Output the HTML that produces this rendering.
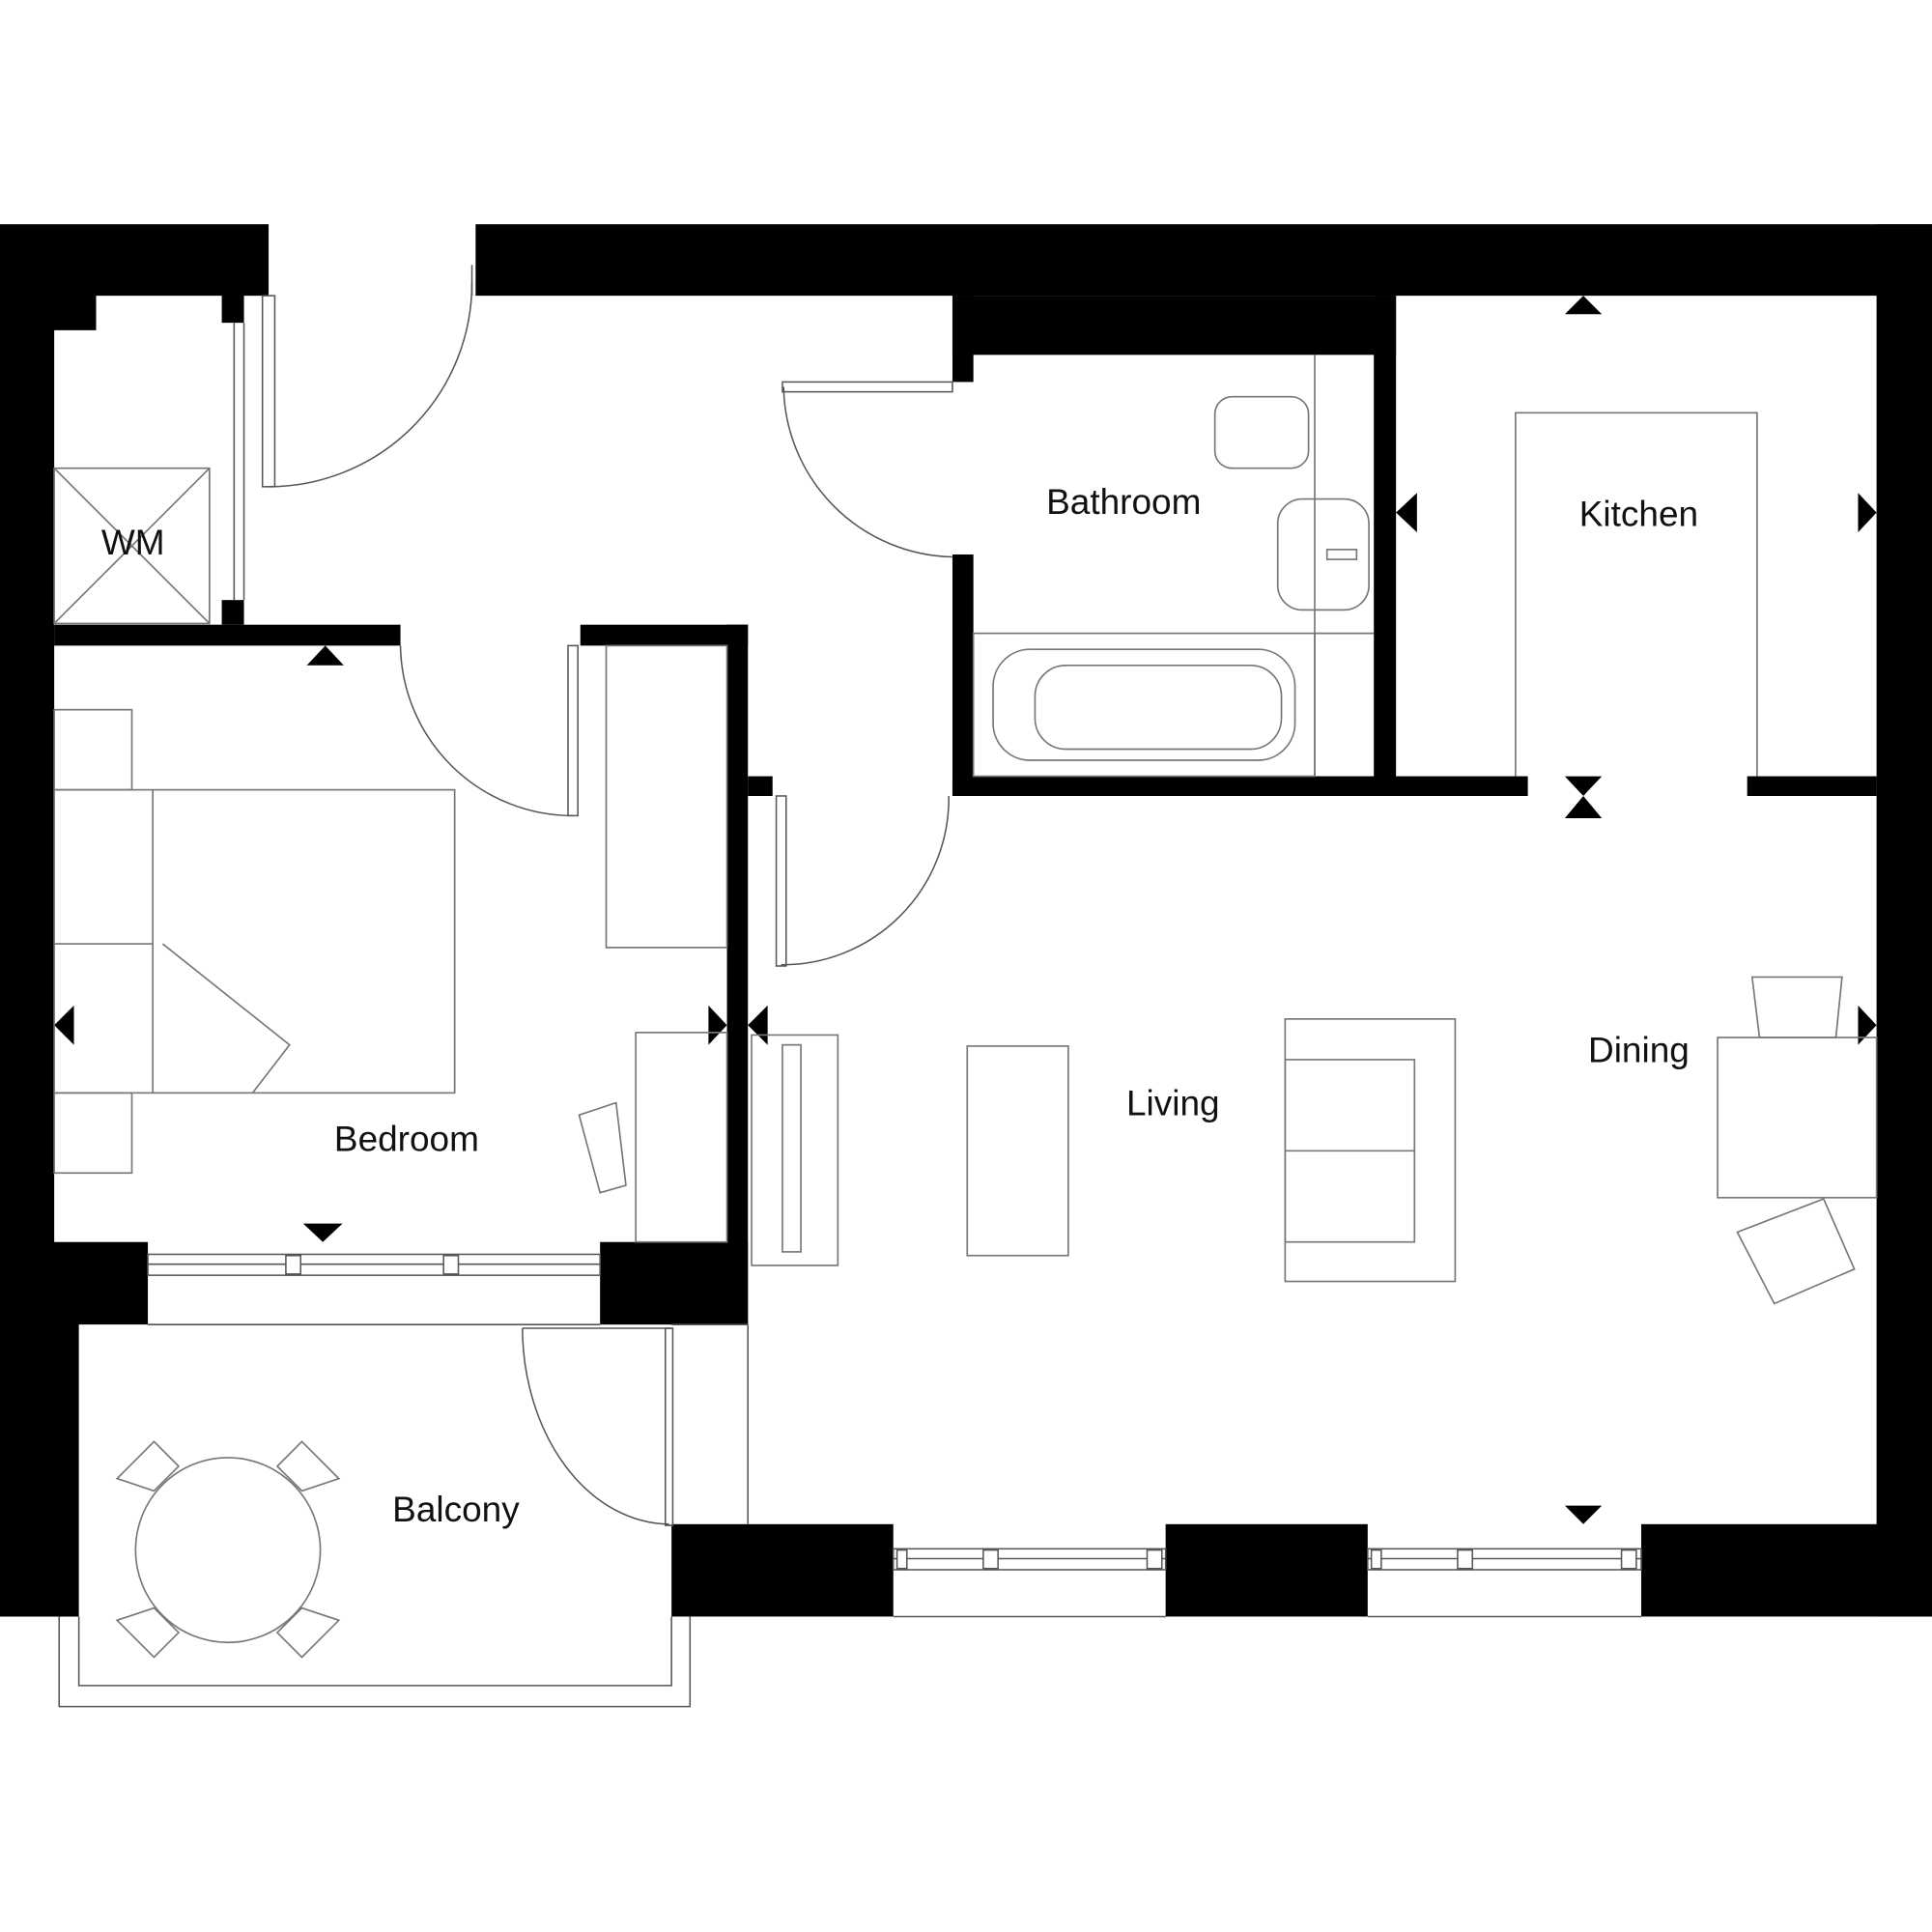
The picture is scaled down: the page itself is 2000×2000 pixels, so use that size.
<!DOCTYPE html>
<html><head><meta charset="utf-8"><style>
html,body{margin:0;padding:0;background:#fff;}
svg{display:block;}
text{font-family:"Liberation Sans",sans-serif;font-size:29px;fill:#111;}
.f{fill:none;stroke:#777;stroke-width:1.3;}
.d{fill:none;stroke:#555;stroke-width:1.2;}
</style></head><body>
<svg width="2000" height="2000" viewBox="0 0 1568 1568" xmlns="http://www.w3.org/2000/svg">
<rect width="1568" height="1568" fill="#fff"/>
<g fill="#000">
<!-- top-left -->
<polygon points="0,182 218,182 218,240 198,240 198,262 180,262 180,240 78,240 78,268 44,268 44,1008 120,1008 120,1075 64,1075 64,1312 0,1312"/>
<!-- top wall right -->
<rect x="386" y="182" width="1182" height="58"/>
<rect x="1523" y="182" width="45" height="1130"/>
<rect x="773" y="240" width="360" height="48"/>
<rect x="773" y="240" width="17" height="70"/>
<rect x="1115" y="240" width="18" height="406"/>
<rect x="773" y="450" width="17" height="196"/>
<rect x="773" y="630" width="467" height="16"/>
<rect x="1418" y="630" width="105" height="16"/>
<!-- WM wall pieces -->
<rect x="180" y="487" width="18" height="20"/>
<!-- bedroom top -->
<rect x="44" y="507" width="281" height="17"/>
<rect x="471" y="507" width="136" height="17"/>
<rect x="590" y="507" width="17" height="568"/>
<rect x="607" y="630" width="20" height="16"/>
<rect x="487" y="1008" width="120" height="67"/>
<!-- bottom -->
<rect x="545" y="1237" width="180" height="75"/>
<rect x="946" y="1237" width="164" height="75"/>
<rect x="1332" y="1237" width="236" height="75"/>
<!-- arrows -->
<polygon points="1270,255 1300,255 1285,240"/>
<polygon points="1270,630 1300,630 1285,646"/>
<polygon points="1270,664 1300,664 1285,646"/>
<polygon points="249,540 279,540 264,524"/>
<polygon points="246,993 278,993 262,1008"/>
<polygon points="1270,1222 1300,1222 1285,1237"/>
<polygon points="1150,400 1150,432 1133,416"/>
<polygon points="1508,400 1508,432 1523,416"/>
<polygon points="1508,816 1508,848 1523,832"/>
<polygon points="60,816 60,848 44,832"/>
<polygon points="575,816 575,848 590,832"/>
<polygon points="623,816 623,848 607,832"/>
</g>
<!-- windows -->
<g class="d">
<rect x="120" y="1018" width="367" height="17"/>
<line x1="120" y1="1026" x2="487" y2="1026"/>
<rect x="725" y="1257" width="221" height="17"/>
<line x1="725" y1="1265" x2="946" y2="1265"/>
<rect x="1110" y="1257" width="222" height="17"/>
<line x1="1110" y1="1265" x2="1332" y2="1265"/>
<line x1="725" y1="1312" x2="946" y2="1312"/>
<line x1="1110" y1="1312" x2="1332" y2="1312"/>
<line x1="120" y1="1075" x2="487" y2="1075"/>
</g>
<g fill="#fff" stroke="#555" stroke-width="1.2">
<rect x="232" y="1019" width="12" height="15"/><rect x="360" y="1019" width="12" height="15"/>
<rect x="798" y="1258" width="12" height="15"/><rect x="931" y="1258" width="12" height="15"/><rect x="728" y="1258" width="8" height="15"/>
<rect x="1183" y="1258" width="12" height="15"/><rect x="1316" y="1258" width="12" height="15"/><rect x="1113" y="1258" width="8" height="15"/>
</g>
<!-- balcony -->
<g class="d">
<polyline points="64,1312 64,1368 545,1368 545,1312"/>
<polyline points="48,1312 48,1385 560,1385 560,1312"/>
<line x1="545" y1="1075" x2="607" y2="1075"/>
<line x1="607" y1="1075" x2="607" y2="1237"/>
</g>
<!-- doors -->
<g class="d">
<rect x="213" y="240" width="10" height="155"/>
<path d="M218,395 A165,165 0 0 0 383,230"/>
<line x1="383" y1="215" x2="383" y2="240"/>
<rect x="635" y="310" width="138" height="8"/>
<path d="M636,314 A140,140 0 0 0 773,452"/>
<rect x="461" y="524" width="8" height="138"/>
<path d="M325,524 A140,140 0 0 0 465,662"/>
<rect x="630" y="646" width="8" height="138"/>
<path d="M634,783 A135,135 0 0 0 770,646"/>
<rect x="540" y="1078" width="6" height="160"/>
<path d="M424,1078 A120,160 0 0 0 543,1237"/>
<line x1="424" y1="1078" x2="545" y2="1078"/>
<line x1="190" y1="262" x2="190" y2="487"/>
<line x1="198" y1="262" x2="198" y2="487"/>
</g>
<!-- WM -->
<g class="f">
<rect x="44" y="380" width="126" height="126"/>
<line x1="44" y1="380" x2="170" y2="506"/><line x1="170" y1="380" x2="44" y2="506"/>
</g>
<!-- bathroom -->
<g class="f">
<line x1="1067" y1="288" x2="1067" y2="630"/>
<line x1="1067" y1="514" x2="1115" y2="514"/>
<rect x="986" y="322" width="76" height="58" rx="14"/>
<rect x="1037" y="405" width="74" height="90" rx="20"/>
<rect x="1077" y="446" width="24" height="8"/>
<rect x="790" y="514" width="277" height="116"/>
<rect x="806" y="527" width="245" height="90" rx="30"/>
<rect x="840" y="540" width="200" height="68" rx="25"/>
</g>
<!-- kitchen -->
<g class="f">
<polyline points="1230,630 1230,335 1426,335 1426,630"/>
</g>
<!-- bedroom -->
<g class="f">
<rect x="44" y="576" width="63" height="65"/>
<rect x="44" y="887" width="63" height="65"/>
<rect x="44" y="641" width="325" height="246"/>
<line x1="124" y1="641" x2="124" y2="887"/>
<line x1="44" y1="766" x2="124" y2="766"/>
<polyline points="132,766 235,848 205,887"/>
<rect x="492" y="524" width="98" height="245"/>
<rect x="516" y="838" width="74" height="170"/>
<polygon points="470,905 500,895 508,962 487,968"/>
</g>
<!-- living -->
<g class="f">
<rect x="610" y="840" width="70" height="187"/>
<rect x="635" y="848" width="15" height="168"/>
<rect x="785" y="849" width="82" height="170"/>
<rect x="1043" y="827" width="138" height="213"/>
<rect x="1043" y="860" width="105" height="148"/>
<line x1="1043" y1="934" x2="1148" y2="934"/>
<rect x="1394" y="842" width="129" height="130"/>
<polygon points="1422,793 1495,793 1490,842 1428,842"/>
<polygon points="1410,1000 1480,973 1505,1030 1440,1058"/>
</g>
<!-- balcony table -->
<g class="f">
<circle cx="185" cy="1258" r="75"/>
<path d="M95,1200 L125,1170 L145,1190 L125,1210 Z"/>
<path d="M275,1200 L245,1170 L225,1190 L245,1210 Z"/>
<path d="M95,1315 L125,1345 L145,1325 L125,1305 Z"/>
<path d="M275,1315 L245,1345 L225,1325 L245,1305 Z"/>
</g>
<text x="912" y="417" text-anchor="middle">Bathroom</text>
<text x="1330" y="427" text-anchor="middle">Kitchen</text>
<text x="108" y="450" text-anchor="middle">WM</text>
<text x="330" y="934" text-anchor="middle">Bedroom</text>
<text x="952" y="905" text-anchor="middle">Living</text>
<text x="1330" y="862" text-anchor="middle">Dining</text>
<text x="370" y="1235" text-anchor="middle">Balcony</text>
</svg>
</body></html>
